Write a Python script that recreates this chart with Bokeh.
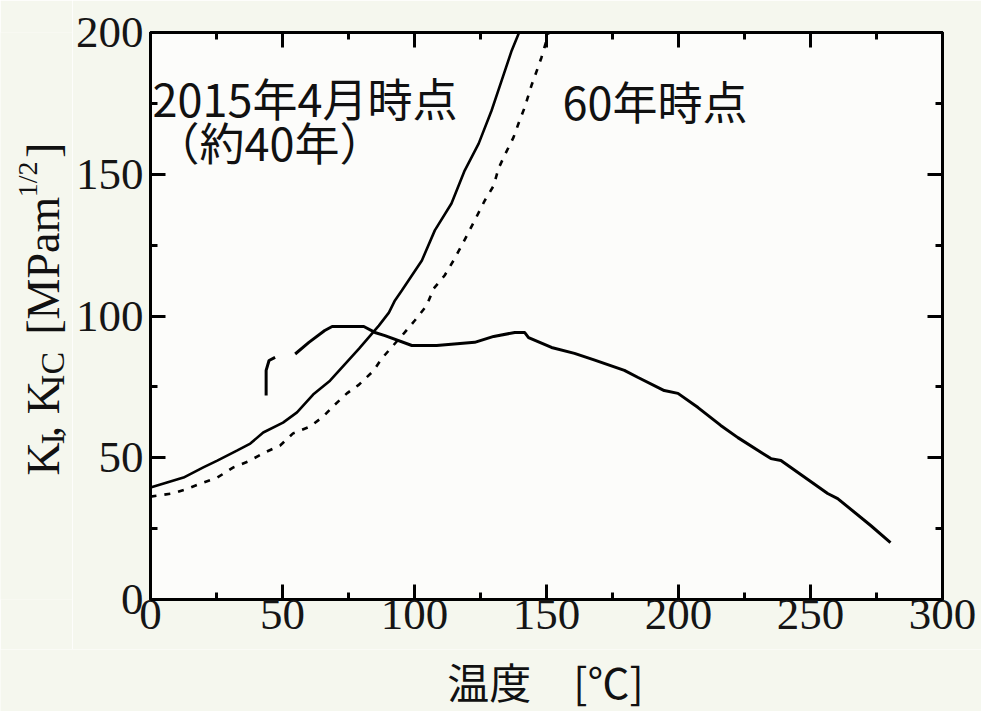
import math

from bokeh.embed import file_html
from bokeh.layouts import column, row
from bokeh.models import FixedTicker, Label, LinearAxis, Range1d
from bokeh.plotting import figure
from bokeh.resources import INLINE

# Fracture toughness K_IC [MPa m^1/2] vs temperature [°C], as of April 2015 (~40 years)
kic_2015_temp = [0, 5, 12.5, 20, 25.3, 32.9, 37.8, 42.7, 50.2, 55.5, 61.6, 68, 79,
                 86.5, 90.3, 92.6, 95.2, 102.8, 107.7, 114, 119, 124.3, 129.2, 133,
                 136.8, 140.5]
kic_2015_val = [39.5, 40.9, 43, 46.6, 49, 52.6, 55, 58.9, 62.4, 66, 72.3, 77.2, 88.5,
                96.6, 101.2, 105.5, 109, 119.6, 130.2, 139.7, 151.3, 160.8, 172.5, 183,
                193.6, 202]

# Fracture toughness K_IC at 60 years
kic_60_temp = [0, 8.3, 13.2, 18.9, 25.3, 31.4, 37, 43.4, 49.1, 54, 60.4, 65.4, 69.9,
               74.4, 79, 84.6, 87.6, 92.6, 96.3, 100.1, 104.6, 107.3, 111.4, 114.8,
               117.9, 122.8, 126.6, 130, 131.8, 134.1, 137.5, 139.4, 141.7, 144.3,
               145.4, 148.1, 150, 151]
kic_60_val = [36.3, 37.4, 38.8, 40.9, 43, 46.6, 48.7, 51.9, 54.3, 58.6, 61, 64.5, 68.8,
              72.7, 75.8, 80.8, 85, 90.3, 94.2, 98.4, 103.7, 109.7, 114.3, 119.6,
              124.9, 133.7, 140.7, 146, 152, 156.6, 163, 167.9, 173.5, 181.3,
              184.1, 191.2, 197.2, 201]

# Stress intensity factor K_I during the transient (NaN marks the break in the trace)
nan = float("nan")
ki_temp = [43.8, 43.8, 44.9, 47.2, nan, 54.8, 60, 66, 68.8, 80.8, 85, 88.8, 99, 108.4,
           122.8, 130, 138, 141.7, 143.2, 151.9, 160.6, 168, 179.5, 184.7, 194.6,
           199.8, 207.4, 216, 222.5, 235, 238.8, 256.5, 260.3, 272.8, 280.3]
ki_val = [72, 80.8, 84.3, 85.4, nan, 86.6, 90.7, 94.9, 96.3, 96.3, 94.2, 93.1, 89.6,
          89.6, 90.7, 92.8, 94.2, 94.2, 92.4, 88.9, 86.8, 84.5, 80.8, 78.3, 73.7,
          72.7, 67.7, 61.4, 57.1, 49.7, 49, 37.4, 35.6, 26.1, 20.1]

x_major = [0, 50, 100, 150, 200, 250, 300]
x_minor = [25, 75, 125, 175, 225, 275]
y_major = [0, 50, 100, 150, 200]
y_minor = [25, 75, 125, 175]
x_title = "温度　[℃]"

BG = "#f5f7ee"
SERIF = "Liberation Serif"
CJK = "Noto Sans CJK JP"
TEXT = "#111111"

TOTAL_W, TOTAL_H = 981, 711
YLAB_W = 72          # strip on the left holding the y-axis title
XLAB_H = 62          # strip at the bottom holding the x-axis title
MAIN_W = TOTAL_W - YLAB_W
MAIN_H = TOTAL_H - XLAB_H

# Main plot: frame spans canvas pixels x 148..942, y 32..599
p = figure(width=MAIN_W, height=MAIN_H, output_backend="svg", toolbar_location=None,
           x_range=Range1d(0, 300), y_range=Range1d(0, 200),
           x_axis_location=None, y_axis_location=None,
           min_border_left=148 - YLAB_W, min_border_right=39,
           min_border_top=32, min_border_bottom=50)
p.grid.visible = False
p.border_fill_color = BG
p.background_fill_color = "#fcfcfa"
p.outline_line_color = "black"
p.outline_line_width = 3


def make_axis(major, minor, labelled):
    ax = LinearAxis(ticker=FixedTicker(ticks=major, minor_ticks=minor))
    ax.axis_line_width = 3
    ax.axis_line_color = "black"
    ax.major_tick_in = 15
    ax.major_tick_out = 0
    ax.minor_tick_in = 7
    ax.minor_tick_out = 0
    ax.major_tick_line_width = 3
    ax.minor_tick_line_width = 3
    ax.major_tick_line_color = "black"
    ax.minor_tick_line_color = "black"
    if labelled:
        ax.major_label_text_font = SERIF
        ax.major_label_text_font_size = "45px"
        ax.major_label_text_color = "#151515"
    else:
        ax.major_label_text_font_size = "0px"
        ax.major_label_text_color = None
    return ax


bottom = make_axis(x_major, x_minor, True)
bottom.major_label_standoff = 0
left = make_axis(y_major, y_minor, True)
left.major_label_standoff = 7
p.add_layout(bottom, "below")
p.add_layout(left, "left")
p.add_layout(make_axis(x_major, x_minor, False), "above")
p.add_layout(make_axis(y_major, y_minor, False), "right")

# Curves
p.line(kic_2015_temp, kic_2015_val, line_color="black", line_width=2.6)
p.line(kic_60_temp, kic_60_val, line_color="black", line_width=2.6, line_dash="6 8")
p.line(ki_temp, ki_val, line_color="black", line_width=3)

# Curve annotations, placed in pixels from the frame's lower-left corner
X0, Y0 = 148, 599


def frame_text(text, px, py, size):
    p.add_layout(Label(x=0, y=0, x_offset=px - X0, y_offset=Y0 - py, text=text,
                       text_font=CJK, text_font_size=f"{size}px",
                       text_color=TEXT, text_baseline="alphabetic"))


frame_text("2015年4月時点", 150, 97, 45)
frame_text("（約40年）", 152, 141, 45)
frame_text("60年時点", 560, 100, 45)


def blank_panel(w, h):
    f = figure(width=w, height=h, output_backend="svg", toolbar_location=None,
               x_range=Range1d(0, w), y_range=Range1d(0, h),
               x_axis_location=None, y_axis_location=None,
               min_border=0, min_border_left=0, min_border_right=0,
               min_border_top=0, min_border_bottom=0)
    f.grid.visible = False
    f.outline_line_color = None
    f.border_fill_color = BG
    f.background_fill_color = BG
    return f


# y-axis title: K_I, K_IC [MPa m^1/2], assembled from centred pieces
ylab = blank_panel(YLAB_W, MAIN_H)
up = math.pi / 2


def ytext(text, cx, cy, size):
    ylab.add_layout(Label(x=cx, y=MAIN_H - cy, text=text, angle=up,
                          text_align="center", text_baseline="middle",
                          text_font=SERIF, text_font_size=f"{size}px",
                          text_color=TEXT))


ytext("K", 43, 488, 46)
ytext("I", 52, 465, 34)
ytext(", K", 43, 431, 46)
ytext("IC", 52, 385, 34)
ytext("[MPam", 43, 267, 46)
ytext("1/2", 27, 168, 28)
ytext("]", 43, 135, 46)

# x-axis title
xlab = blank_panel(TOTAL_W, XLAB_H)
xlab.add_layout(Label(x=545, y=XLAB_H - (680 - MAIN_H), text=x_title,
                      text_align="center", text_baseline="middle",
                      text_font=CJK, text_font_size="42px", text_color=TEXT))

layout = column(row(ylab, p, spacing=0), xlab, spacing=0)

with open("out.html", "w", encoding="utf-8") as f:
    f.write(file_html(layout, INLINE))
